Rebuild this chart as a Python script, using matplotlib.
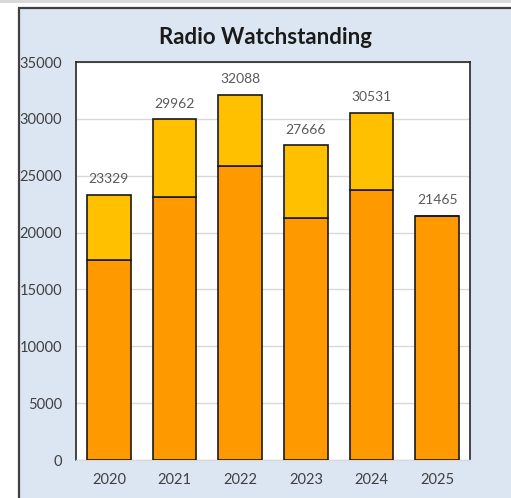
import numpy as np
import matplotlib.pyplot as plt
from matplotlib.patches import Rectangle

# data
years = ["2020", "2021", "2022", "2023", "2024", "2025"]
base = [17550, 23150, 25850, 21300, 23750, 21465]
totals = [23329, 29962, 32088, 27666, 30531, 21465]
upper = [t - b for t, b in zip(totals, base)]

plt.rcParams['font.family'] = ['Lato', 'DejaVu Sans']

fig = plt.figure(figsize=(5.11, 4.98), dpi=100)
fig.patch.set_facecolor("white")

# grey strip on top and light blue panel
fig.patches.append(Rectangle((0, 1 - 3 / 498), 1, 3 / 498, transform=fig.transFigure,
                             facecolor="#d9d9d9", edgecolor="none", zorder=-2))
fig.patches.append(Rectangle((19 / 511, -0.01), 1.0, 1 - 8 / 498 + 0.01, transform=fig.transFigure,
                             facecolor="#dce6f2", edgecolor="#404040", linewidth=1.6, zorder=-1))

ax = fig.add_axes([76 / 511, 1 - 460 / 498, 394 / 511, 398 / 498])
ax.set_zorder(2)
ax.set_facecolor("white")

x = np.arange(len(years))
w = 0.67
ax.bar(x, base, width=w, color="#ff9900", edgecolor="#1a1a1a", linewidth=1.2, zorder=3)
ax.bar(x, upper, bottom=base, width=w, color="#ffc000", edgecolor="#1a1a1a", linewidth=1.2, zorder=3)

for xi, t in zip(x, totals):
    ax.annotate(str(t), (xi, t), xytext=(0, 7), textcoords="offset points",
                ha="center", va="bottom", fontsize=10, color="#595959")

ax.set_xlim(-0.5, len(years) - 0.5)
ax.set_ylim(0, 35000)
ax.set_yticks(np.arange(0, 35001, 5000))
ax.set_xticks(x)
ax.set_xticklabels(years)
ax.tick_params(axis="both", length=0, labelsize=10.5, labelcolor="#404040")
ax.tick_params(axis="y", pad=10)
ax.tick_params(axis="x", pad=9.5)
ax.grid(axis="y", color="#d9d9d9", linewidth=1, zorder=0)
ax.set_axisbelow(True)

for s in ["left", "right", "top"]:
    ax.spines[s].set_color("#262626")
    ax.spines[s].set_linewidth(1.2)
ax.spines["bottom"].set_color("#d9d9d9")
ax.spines["bottom"].set_linewidth(1)

fig.text(265 / 511, 1 - 37 / 498, "Radio Watchstanding", ha="center", va="center",
         fontsize=16, fontweight="bold", color="#1a1a1a", zorder=3)

fig.savefig("out.png", dpi=100)
